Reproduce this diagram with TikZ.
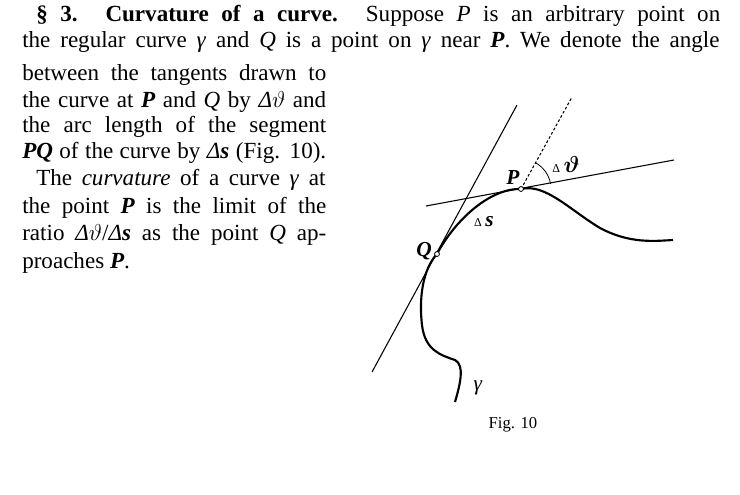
\documentclass[tikz,border=0pt]{standalone}
\usepackage{amsmath}
\usepackage{fontspec}
\setmainfont{Liberation Serif}
\usetikzlibrary{calc}
\begin{document}
\newcommand{\jl}[2]{\parbox{#1pt}{\parfillskip=0pt\noindent\strut #2}}
\newcommand{\vi}[1]{\textit{#1}}
\newcommand{\vb}[1]{\textit{\textbf{#1}}}
\newcommand{\dth}{\textit{Δ}$\vartheta$}
\begin{tikzpicture}[x=0.75pt,y=-0.75pt,
  txt/.style={anchor=base west,inner sep=0pt,font=\fontsize{17.3}{20}\selectfont},
  tan/.style={line width=0.8pt},
  crv/.style={line width=1.6pt},
  pt/.style={circle,draw,fill=white,inner sep=1.3pt,line width=0.6pt},
  lab/.style={inner sep=1pt,font=\fontsize{16}{18}\selectfont}]
\useasboundingbox (0,0) rectangle (740,494);
% text
\node[txt] (l1) at (36,22) {\jl{513}{\textbf{§ 3. Curvature of a curve.} Suppose \vi{P} is an arbitrary point on}};
\node[txt] (l2) at (22,48) {\jl{523}{the regular curve \vi{γ} and \vi{Q} is a point on \vi{γ} near \vb{P}. We denote the angle}};
\node[txt] (l3) at (22,81) {\jl{228}{between the tangents drawn to}};
\node[txt] (l4) at (22,108) {\jl{228}{the curve at \vb{P} and \vi{Q} by \dth{} and}};
\node[txt] (l5) at (22,133) {\jl{228}{the arc length of the segment}};
\node[txt] (l6) at (22,159) {\jl{228}{\vb{PQ} of the curve by \vi{Δ}\vb{s} (Fig. 10).}};
\node[txt] (l7) at (36,186) {\jl{217}{The \textit{curvature} of a curve \vi{γ} at}};
\node[txt] (l8) at (22,214) {\jl{228}{the point \vb{P} is the limit of the}};
\node[txt] (l9) at (22,241) {\jl{228}{ratio \dth/\vi{Δ}\vb{s} as the point \vi{Q} ap-}};
\node[txt] (l10) at (22,268) {proaches \vb{P}.};
% figure
\coordinate (Q) at (437,254);
\coordinate (P) at (521,189);
\coordinate (tq1) at (372,372);
\coordinate (tq2) at (517,105);
\coordinate (tp1) at (426,206);
\coordinate (tp2) at (674,160);
\coordinate (dd) at (572,97);
\draw[tan] (tq1) -- (tq2);
\draw[tan] (tp1) -- (tp2);
\draw[tan,dash pattern=on 2pt off 1.6pt] (P) -- (dd);
\draw[line width=0.6pt] ($(P)!22.5pt!(dd)$) arc[start angle=61,end angle=10,radius=22.5pt];
\draw[crv] (455,402) .. controls (460,385) and (465,365) .. (455,360)
  .. controls (440,355) and (425,350) .. (422,325)
  .. controls (419,300) and (422,270) .. (Q)
  .. controls (455,220) and (490,188) .. (P)
  .. controls (545,183) and (570,210) .. (600,228)
  .. controls (630,244) and (655,241) .. (673,240);
\node[pt] (Pn) at (P) {};
\node[pt] (Qn) at (Q) {};
\node[lab] (Pl) at (513,178) {\vb{P}};
\node[lab] (Ql) at (424,251) {\vb{Q}};
\node[lab] (ds) at (484,222) {{\small Δ}\,\vb{s}};
\node[lab] (dt) at (566,164) {{\small Δ}\,$\boldsymbol{\vartheta}$};
\node[lab] (g) at (478,388) {\vi{γ}};
\node[lab,font=\fontsize{12.5}{14}\selectfont] (fig) at (513,425) {Fig. 10};
\end{tikzpicture}
\end{document}
